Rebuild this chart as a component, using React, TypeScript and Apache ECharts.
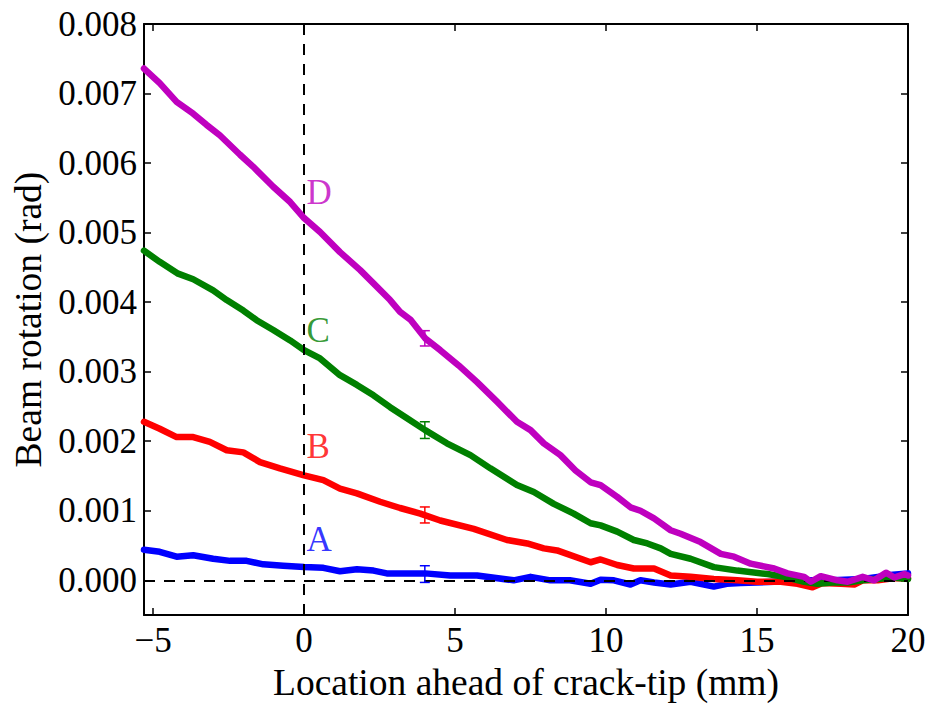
import React, { useEffect, useRef } from "react";
import * as echarts from "echarts";

// Beam rotation profiles (x in mm, rotation in units of 1e-3 rad)
const curveA: [number, number][] = [
  [-5.3, 0.44], [-4.78, 0.41], [-4.22, 0.34], [-3.67, 0.36], [-3.01, 0.31], [-2.45, 0.28],
  [-1.9, 0.28], [-1.35, 0.23], [-0.69, 0.21], [0, 0.19], [0.64, 0.18], [1.19, 0.13],
  [1.75, 0.16], [2.3, 0.14], [2.74, 0.1], [3.41, 0.1], [4.01, 0.1], [4.84, 0.07],
  [5.73, 0.07], [6.94, 0.0], [7.5, 0.05], [8.16, 0.0], [8.8, 0.0], [9.49, -0.05],
  [9.82, 0.01], [10.26, 0.0], [10.81, -0.06], [11.14, 0.0], [11.59, -0.03], [12.14, -0.06],
  [12.8, -0.02], [13.57, -0.09], [14.0, -0.05], [14.46, -0.04], [15.57, -0.02], [16.5, 0.0],
  [17.5, 0.0], [18.5, 0.02], [19.0, 0.05], [19.5, 0.08], [20, 0.1],
];

const curveB: [number, number][] = [
  [-5.3, 2.28], [-4.78, 2.18], [-4.22, 2.06], [-3.67, 2.06], [-3.12, 1.99], [-2.56, 1.87],
  [-2.01, 1.84], [-1.46, 1.7], [-0.8, 1.61], [0, 1.51], [0.64, 1.44], [1.19, 1.32],
  [1.75, 1.25], [2.52, 1.13], [3.18, 1.04], [3.85, 0.96], [4.51, 0.86], [5.62, 0.74],
  [6.72, 0.58], [7.39, 0.53], [7.94, 0.46], [8.38, 0.43], [9.49, 0.26], [9.82, 0.3],
  [10.37, 0.22], [10.92, 0.17], [11.59, 0.17], [12.14, 0.07], [12.8, 0.05], [13.57, 0.02],
  [14.35, 0.0], [15.0, -0.02], [15.79, -0.02], [16.34, -0.05], [16.84, -0.1], [17.17, -0.04],
  [17.78, -0.05], [18.22, -0.06], [18.5, 0.0], [19.0, 0.0], [19.5, 0.03], [20, 0.03],
];

const curveC: [number, number][] = [
  [-5.3, 4.74], [-4.78, 4.58], [-4.17, 4.41], [-3.67, 4.33], [-3.01, 4.17], [-2.56, 4.03],
  [-2.01, 3.88], [-1.57, 3.74], [-1.02, 3.6], [-0.46, 3.45], [0, 3.31], [0.53, 3.19],
  [1.19, 2.95], [1.75, 2.81], [2.3, 2.66], [2.85, 2.49], [3.41, 2.33], [4.01, 2.16],
  [4.73, 1.97], [5.51, 1.8], [6.17, 1.61], [7.05, 1.37], [7.61, 1.27], [8.27, 1.1],
  [8.93, 0.96], [9.49, 0.82], [9.82, 0.79], [10.37, 0.7], [10.92, 0.58], [11.37, 0.53],
  [11.81, 0.46], [12.14, 0.38], [12.8, 0.31], [13.57, 0.19], [14.35, 0.14], [15.35, 0.09],
  [15.9, 0.05], [16.56, -0.02], [17.0, -0.05], [17.5, -0.03], [18.0, -0.03], [18.5, 0.0],
  [19.0, 0.02], [19.5, 0.04], [20, 0.02],
];

const curveD: [number, number][] = [
  [-5.3, 7.36], [-4.78, 7.15], [-4.22, 6.88], [-3.67, 6.71], [-3.23, 6.55], [-2.79, 6.4],
  [-2.12, 6.12], [-1.69, 5.95], [-1.02, 5.66], [-0.46, 5.44], [0, 5.21], [0.53, 5.01],
  [1.19, 4.72], [1.86, 4.46], [2.3, 4.27], [2.85, 4.03], [3.18, 3.86], [3.52, 3.75],
  [4.01, 3.48], [4.51, 3.31], [5.12, 3.09], [5.73, 2.85], [6.39, 2.57], [7.05, 2.28],
  [7.5, 2.16], [7.94, 1.97], [8.49, 1.8], [8.99, 1.58], [9.49, 1.41], [9.82, 1.37],
  [10.37, 1.2], [10.81, 1.05], [11.14, 1.0], [11.59, 0.89], [12.14, 0.72], [12.47, 0.67],
  [13.13, 0.55], [13.8, 0.38], [14.24, 0.34], [14.79, 0.24], [15.57, 0.17], [16.01, 0.1],
  [16.56, 0.05], [16.78, -0.02], [17.11, 0.06], [17.67, 0.0], [18.0, -0.02], [18.5, 0.05],
  [18.88, 0.0], [19.27, 0.11], [19.55, 0.04], [19.88, 0.09], [20, 0.07],
];

const curveNames = ["A", "B", "C", "D"];
const curveColors = ["#0000ff", "#ff0000", "#008000", "#bf00bf"];
const curves = [curveA, curveB, curveC, curveD];

// Representative error bars at x = 4 mm (centre, half-width; 1e-3 rad)
const errX = 4.0;
const errCentre = [0.09, 0.94, 2.16, 3.48];
const errHalf = [0.12, 0.115, 0.12, 0.11];

// Curve labels placed just right of the crack tip
const labelX = 0.08;
const labelY = [0.58, 1.92, 3.59, 5.58];

const X_MIN = -5.3;
const X_MAX = 20;
const Y_MIN = -0.0005;
const Y_MAX = 0.008;

const MRAD = 1e-3;
const FONT = "Liberation Serif";

export default function App() {
  const ref = useRef<HTMLDivElement>(null);

  useEffect(() => {
    if (!ref.current) return;
    const chart = echarts.init(ref.current, undefined, { renderer: "svg" });

    const axisLineStyle = { color: "#000", width: 2 };
    const tickStyle = { show: true, inside: true, length: 7, lineStyle: { color: "#000", width: 1.5 } };

    const lineSeries = curves.map((c, i) => ({
      name: curveNames[i],
      type: "line",
      xAxisIndex: 0,
      yAxisIndex: 0,
      data: c.map(([x, v]) => [x, v * MRAD]),
      showSymbol: false,
      symbol: "none",
      lineStyle: { color: curveColors[i], width: 6.5, join: "round", cap: "round" },
      itemStyle: { color: curveColors[i] },
      z: 2 + i,
    }));

    const option: any = {
      animation: false,
      backgroundColor: "#fff",
      textStyle: { fontFamily: FONT },
      grid: { left: 144, right: 22, top: 24, bottom: 90, containLabel: false },
      xAxis: [
        {
          type: "value",
          position: "bottom",
          min: X_MIN,
          max: X_MAX,
          splitNumber: 5,
          name: "Location ahead of crack-tip (mm)",
          nameLocation: "middle",
          nameGap: 45,
          nameTextStyle: { fontFamily: FONT, fontSize: 37.5, color: "#000" },
          axisLine: { show: true, onZero: false, lineStyle: axisLineStyle },
          axisTick: tickStyle,
          splitLine: { show: false },
          axisLabel: {
            showMinLabel: false,
            margin: 8,
            fontFamily: FONT,
            fontSize: 35,
            color: "#000",
            formatter: (v: number) => (v < 0 ? "\u2212" + Math.abs(v) : String(v)),
          },
        },
        {
          type: "value",
          position: "top",
          min: X_MIN,
          max: X_MAX,
          splitNumber: 5,
          axisLine: { show: true, onZero: false, lineStyle: axisLineStyle },
          axisTick: tickStyle,
          splitLine: { show: false },
          axisLabel: { show: false },
        },
      ],
      yAxis: [
        {
          type: "value",
          position: "left",
          min: Y_MIN,
          max: Y_MAX,
          splitNumber: 8,
          name: "Beam rotation (rad)",
          nameLocation: "middle",
          nameGap: 94,
          nameTextStyle: { fontFamily: FONT, fontSize: 37.5, color: "#000" },
          axisLine: { show: true, onZero: false, lineStyle: axisLineStyle },
          axisTick: tickStyle,
          splitLine: { show: false },
          axisLabel: {
            showMinLabel: false,
            margin: 7,
            fontFamily: FONT,
            fontSize: 35,
            color: "#000",
            formatter: (v: number) => v.toFixed(3),
          },
        },
        {
          type: "value",
          position: "right",
          min: Y_MIN,
          max: Y_MAX,
          splitNumber: 8,
          axisLine: { show: true, onZero: false, lineStyle: axisLineStyle },
          axisTick: tickStyle,
          splitLine: { show: false },
          axisLabel: { show: false },
        },
      ],
      series: [
        ...lineSeries,
        {
          name: "errorbars",
          type: "custom",
          xAxisIndex: 0,
          yAxisIndex: 0,
          z: 10,
          data: errCentre.map((c, i) => [errX, c * MRAD, errHalf[i] * MRAD, i]),
          encode: { x: 0, y: 1 },
          renderItem: (_params: any, api: any) => {
            const x = api.value(0);
            const y = api.value(1);
            const e = api.value(2);
            const color = curveColors[api.value(3)];
            const top = api.coord([x, y + e]);
            const bot = api.coord([x, y - e]);
            const hw = 5;
            const style = { stroke: color, lineWidth: 1.5 };
            return {
              type: "group",
              children: [
                { type: "line", shape: { x1: top[0], y1: top[1], x2: bot[0], y2: bot[1] }, style },
                { type: "line", shape: { x1: top[0] - hw, y1: top[1], x2: top[0] + hw, y2: top[1] }, style },
                { type: "line", shape: { x1: bot[0] - hw, y1: bot[1], x2: bot[0] + hw, y2: bot[1] }, style },
              ],
            };
          },
        },
        {
          name: "labels",
          type: "scatter",
          xAxisIndex: 0,
          yAxisIndex: 0,
          symbolSize: 0,
          z: 11,
          data: curveNames.map((n, i) => ({
            value: [labelX, labelY[i] * MRAD],
            label: {
              show: true,
              formatter: n,
              position: "right",
              distance: 0,
              color: curveColors[i],
              fontFamily: FONT,
              fontSize: 35,
            },
          })),
        },
        {
          name: "guides",
          type: "line",
          xAxisIndex: 0,
          yAxisIndex: 0,
          data: [],
          z: 12,
          markLine: {
            silent: true,
            symbol: "none",
            animation: false,
            label: { show: false },
            lineStyle: { color: "#000", type: [11, 9], width: 2 },
            data: [{ xAxis: 0 }, { yAxis: 0 }],
          },
        },
      ],
    };

    chart.setOption(option);
    return () => chart.dispose();
  }, []);

  return (
    <div
      ref={ref}
      style={{ position: "fixed", left: 0, top: 0, width: 930, height: 706, background: "#fff" }}
    />
  );
}
